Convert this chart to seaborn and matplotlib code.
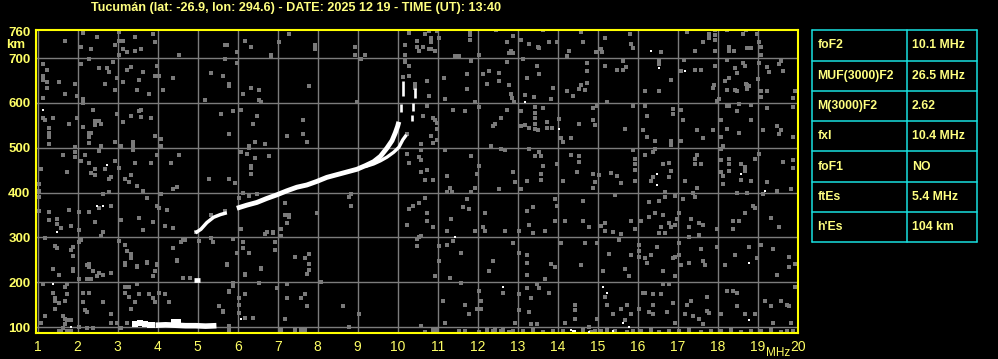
import matplotlib
matplotlib.use("Agg")
import matplotlib.pyplot as plt
import matplotlib.font_manager as fm
import seaborn as sns
import pandas as pd

# ---------------- data ----------------
title = "Tucumán (lat: -26.9, lon: 294.6) - DATE: 2025 12 19 - TIME (UT): 13:40"
freq_ticks = list(range(1, 21))
height_ticks = [100, 200, 300, 400, 500, 600, 700, 760]
grid_freqs = list(range(1, 20))
grid_heights = [100, 200, 300, 400, 500, 600, 700]

param_names = ["foF2", "MUF(3000)F2", "M(3000)F2", "fxI", "foF1", "ftEs", "h'Es"]
param_values = ["10.1 MHz", "26.5 MHz", "2.62", "10.4 MHz", "NO", "5.4 MHz", "104 km"]

# F-layer ordinary trace (two pieces)
o_low_f = [4.94, 5.08, 5.23, 5.40, 5.57, 5.73]
o_low_h = [310, 318, 333, 345, 351, 355]
o_main_f = [5.98, 6.23, 6.48, 6.73, 6.98, 7.23, 7.48, 7.73, 7.98, 8.23, 8.48, 8.73, 8.98,
            9.19, 9.40, 9.57, 9.73, 9.86, 9.94, 10.00, 10.03]
o_main_h = [365, 372, 378, 387, 395, 404, 412, 417, 425, 434, 440, 446, 452,
            460, 469, 481, 499, 516, 533, 548, 558]
o_cusp_f = [10.08, 10.13]
o_cusp_lo = [580, 615]
o_cusp_hi = [598, 648]
# extraordinary trace
x_main_f = [9.19, 9.40, 9.57, 9.73, 9.90, 10.03, 10.13, 10.22]
x_main_h = [458, 464, 471, 479, 490, 501, 518, 529]
x_cusp_f = [10.35, 10.38, 10.44]
x_cusp_lo = [559, 582, 611]
x_cusp_hi = [574, 600, 634]
# sporadic E
es_f = [3.95, 4.20, 4.45, 4.70, 4.95, 5.20, 5.47]
es_h = [104, 105, 104, 103, 103, 102, 103]
es_dash = [(3.43, 107), (3.57, 109), (3.68, 106), (3.80, 104), (3.87, 104), (4.40, 111), (4.50, 111)]
es2_f = [4.92, 5.07]
es2_h = [206, 206]

noise_gray = [
    (2.13,757),(1.68,739),(2.48,748),(2.33,721),(2.08,726),(3.03,758),(2.93,730),(3.03,738),(3.13,739),(3.03,708),
    (3.13,721),(3.23,713),(3.43,748),(3.43,717),(3.58,721),(3.88,753),(3.93,735),(4.53,708),(1.13,687),(1.23,674),
    (1.13,661),(1.13,652),(1.23,647),(1.53,647),(1.23,634),(1.68,621),(1.13,612),(1.93,643),(1.98,616),(2.13,610),
    (2.13,601),(2.08,687),(2.28,698),(2.53,679),(2.73,679),(2.78,670),(2.68,643),(2.93,630),(2.88,692),(2.98,656),
    (3.13,647),(3.23,674),(3.33,680),(3.48,630),(3.53,652),(3.63,670),(3.78,621),(3.93,661),(4.03,661),(4.13,630),
    (4.38,656),(3.98,683),(1.13,567),(1.18,561),(1.38,566),(1.28,545),(1.28,532),(1.28,523),(1.28,508),(1.78,554),
    (1.98,567),(2.13,547),(2.28,532),(2.28,523),(2.33,532),(2.38,585),(2.43,560),(2.43,550),(2.53,559),(2.58,553),
    (2.28,510),(2.58,505),(2.98,576),(3.13,557),(3.33,572),(3.53,581),(3.58,585),(3.58,569),(3.83,566),(3.93,526),
    (4.08,519),(4.08,505),(3.38,514),(3.38,505),(3.38,496),(3.08,505),(2.93,513),(1.93,501),(1.93,490),(1.93,479),
    (1.63,483),(1.08,452),(1.73,447),(2.08,470),(2.18,483),(2.28,465),(2.33,444),(2.43,452),(2.53,492),(2.43,439),
    (2.68,452),(2.83,434),(2.78,430),(2.93,471),(3.03,456),(3.18,430),(3.28,424),(3.33,439),(3.43,465),(3.48,415),
    (3.63,404),(3.83,465),(3.98,484),(4.33,465),(4.53,483),(4.38,409),(4.48,413),(1.03,419),(1.03,404),(1.03,390),
    (1.28,357),(1.28,339),(1.48,342),(1.48,330),(1.58,321),(1.78,361),(1.83,326),(2.03,357),(2.03,317),(2.28,357),
    (2.43,335),(2.53,366),(2.63,313),(2.58,304),(2.83,370),(2.78,401),(2.63,397),(3.03,293),(3.08,339),(3.18,284),
    (3.23,270),(3.33,264),(3.33,255),(3.53,344),(3.63,317),(3.73,388),(3.88,335),(3.98,370),(4.08,397),(4.03,366),
    (4.23,361),(4.18,326),(4.38,321),(4.38,277),(4.48,250),(4.58,290),(4.63,295),(1.03,360),(1.18,298),(1.43,281),
    (1.48,277),(1.88,279),(1.83,273),(1.88,259),(2.03,290),(2.08,295),(2.28,241),(3.18,243),(3.48,237),(3.73,246),
    (3.98,241),
    (1.38,230),(1.53,217),(1.88,230),(1.88,226),(1.13,195),(1.68,190),(1.73,195),(1.38,177),(1.73,173),(1.68,159),
    (1.53,153),(1.43,164),(1.43,159),(1.43,141),(1.18,124),(1.63,124),(1.68,119),(1.73,115),(1.83,115),(1.68,106),
    (1.58,92),(1.53,92),(1.63,97),(1.73,92),(1.83,92),(1.08,110),(2.23,239),(2.28,235),(2.38,226),(2.53,221),
    (2.63,217),(2.83,221),(2.33,208),(2.23,208),(2.48,213),(2.03,208),(2.13,177),(2.28,177),(2.13,155),(2.18,137),
    (2.23,133),(2.03,101),(2.23,97),(2.38,97),(2.63,155),(2.83,128),(2.83,110),(2.98,110),(3.08,97),(3.18,239),
    (3.48,235),(3.73,244),(3.98,239),(3.93,226),(3.88,213),(3.18,190),(3.28,190),(3.48,195),(3.18,177),(3.28,168),
    (3.53,173),(3.43,155),(3.33,141),(3.23,110),(3.78,173),(3.88,164),(3.93,155),(4.03,177),(4.18,173),(4.28,155),
    (4.48,248),(5.53,146),(5.63,136),(5.73,239),(5.78,178),(5.88,198),(6.03,164),(6.18,217),(6.53,198),(6.58,230),
    (6.98,186),(5.78,97),
    (4.97,313),(4.63,295),(4.68,295),(5.03,292),(5.33,299),(5.38,290),(5.88,296),(6.13,290),(6.13,277),(6.28,266),
    (5.98,266),(5.73,241),(6.18,218),(6.58,232),(6.73,311),(6.88,313),(7.08,304),(6.93,290),(6.93,272),(7.43,257),
    (7.68,254),(7.78,263),(7.78,241),(7.78,227),(7.73,218),(6.53,199),(6.98,187),(7.23,196),(8.08,200),(4.63,209),
    (4.82,209),(5.88,191),(5.78,181),(6.18,173),(6.03,164),(6.03,149),(5.53,146),(5.63,134),(6.03,131),(6.18,121),
    (6.38,121),(7.18,118),(7.68,173),(7.73,148),(7.23,164),(7.58,164),(8.63,146),(9.03,130),(8.78,101),(10.48,296),
    (10.48,281),(10.58,304),(11.03,281),(11.03,247),(10.93,214),(10.58,103),(10.68,90),(10.88,94),(10.98,94),
    (5.78,103),(5.78,94),(7.08,94),(7.43,94),(7.58,94),(7.68,94),
    (5.68,730),(5.73,730),(5.68,699),(5.98,713),(5.98,689),(6.18,739),(6.33,726),(6.83,708),(6.83,704),(7.03,735),
    (7.28,753),(7.93,730),(7.93,721),(8.93,726),(8.93,708),(9.08,699),(9.18,708),(10.28,757),(10.18,730),(10.18,708),
    (10.18,693),(10.28,683),(10.48,739),(10.48,726),(10.53,717),(10.63,726),(10.68,753),(10.78,761),(10.83,744),
    (10.83,735),(10.78,721),(10.83,721),(10.93,717),(10.98,761),(11.03,744),
    (5.33,666),(5.63,661),(5.78,643),(5.78,639),(5.18,606),(6.13,621),(6.33,634),(6.53,630),(6.53,607),(6.58,603),
    (5.58,576),(5.88,581),(6.08,585),(6.38,554),(6.48,572),(5.78,531),(6.28,504),(6.28,500),(6.43,513),(6.68,509),
    (6.08,491),(6.23,487),(6.43,478),(6.78,482),(6.33,460),(6.33,455),(6.33,442),(5.28,430),(5.78,430),(5.93,422),
    (6.13,399),(6.03,387),(6.28,393),(6.48,397),(7.18,376),(7.18,351),(7.28,349),(7.28,345),(7.23,333),(7.08,319),
    (6.68,307),(6.88,310),(6.08,319),(5.33,349),(5.68,358),(7.23,527),(7.63,563),(7.63,531),(7.73,513),(7.78,639),
    (8.98,603),(7.98,355),(8.78,391),(8.83,396),(8.83,369),(10.18,691),(10.28,682),(10.28,660),(10.13,657),
    (10.43,643),(10.43,634),(10.73,648),(10.78,616),(10.73,594),(10.63,572),(10.88,567),(10.93,563),(10.98,555),
    (10.98,543),(10.98,518),(10.88,510),(10.83,527),(10.58,509),(10.58,496),(10.53,479),(10.58,473),(10.23,530),
    (10.23,487),(10.28,467),(10.73,451),(10.68,428),(10.58,446),(10.88,428),(10.68,387),(10.73,355),(10.73,337),
    (10.53,376),(10.38,370),(10.28,364),(10.23,328),(10.53,301),(10.88,324),
    (11.80,761),(11.80,752),(11.80,740),(12.45,762),(12.89,749),(13.09,740),(12.74,735),(12.84,717),(12.78,712),
    (12.89,712),(13.29,731),(13.50,725),(13.54,722),(13.79,737),(13.99,735),(13.64,762),(14.59,758),(14.64,735),
    (14.29,717),(14.24,704),(14.95,713),(15.09,720),(15.10,713),(15.19,744),(15.82,755),(15.84,731),(15.89,722),
    (16.59,713),(17.24,758),(17.79,753),(17.79,744),(17.94,762),(17.94,752),(17.94,740),(17.64,735),(17.44,717),
    (17.94,717),(18.24,762),(18.29,726),(18.29,717),(18.40,717),(18.70,762),(18.64,753),(18.74,722),(18.84,722),
    (19.04,735),(19.09,726),(19.09,708),(18.99,755),(11.44,704),(11.54,704),(12.04,708),(11.15,656),(11.84,693),
    (11.74,665),(11.74,632),(12.14,665),(12.29,671),(12.54,668),(12.54,648),(12.24,642),(12.79,641),(12.74,692),
    (12.84,620),(12.85,611),(12.90,602),(11.94,603),(11.19,608),(13.14,699),(13.24,656),(13.49,683),(13.54,665),
    (13.19,618),(13.40,614),(13.89,633),(13.84,608),(14.24,627),(14.39,615),(14.54,632),(14.59,641),(14.74,690),
    (14.74,671),(14.74,645),(14.69,629),(15.19,683),(15.49,674),(15.64,693),(15.64,674),(15.70,680),(16.54,696),
    (16.54,687),(16.84,651),(16.54,627),(16.19,626),(15.24,602),(17.15,696),(17.09,671),(17.44,674),(17.59,674),
    (17.94,683),(17.90,641),(17.89,633),(17.99,605),(18.04,608),(18.24,696),(18.19,648),(18.24,629),(18.29,656),
    (18.44,678),(18.49,668),(18.44,629),(18.49,626),(18.64,689),(18.69,683),(18.74,641),(18.74,632),(18.70,642),
    (18.79,639),(19.04,690),(19.02,653),(19.09,627),(19.09,614),(19.24,681),(19.29,669),(19.24,626),(19.54,686),
    (19.59,693),(19.64,671),(19.89,611),(19.94,626),
    (11.39,584),(11.69,581),(12.04,591),(12.74,584),(12.59,566),(12.39,548),(12.44,552),(13.09,582),(13.09,548),
    (13.19,551),(13.29,545),(13.44,591),(13.44,578),(13.44,566),(13.44,554),(13.44,543),(13.52,540),(13.64,588),
    (13.74,557),(13.74,545),(13.85,545),(14.04,564),(14.09,521),(14.14,512),(14.34,521),(14.54,552),(14.89,588),
    (14.89,561),(14.94,551),(14.99,594),(15.69,543),(15.89,593),(16.19,594),(16.24,572),(16.14,539),(16.24,525),
    (16.44,516),(16.84,516),(16.84,507),(16.89,587),(16.89,575),(17.09,584),(17.14,561),(17.49,539),(17.64,521),
    (17.09,516),(17.89,539),(18.09,561),(18.09,525),(18.24,543),(18.29,593),(18.49,582),(18.54,534),(18.84,561),
    (18.84,596),(19.14,539),(19.24,588),(19.49,548),(19.54,530),(19.59,539),(19.89,590),(19.89,525),(18.24,593),
    (18.54,597),
    (11.19,494),(11.84,482),(12.04,460),(11.99,442),(11.24,436),(12.34,503),(12.59,497),(12.69,494),(12.89,445),
    (13.29,498),(13.44,481),(13.54,490),(13.59,481),(13.64,460),(13.59,442),(13.99,463),(14.34,485),(14.49,445),
    (14.54,469),(14.54,482),(14.89,442),(15.04,439),(15.34,443),(15.49,436),(15.89,494),(15.94,476),(15.94,463),
    (15.94,451),(16.19,484),(16.39,490),(16.44,498),(16.64,463),(16.79,467),(16.84,449),(16.79,434),(16.39,434),
    (17.44,475),(17.44,463),(17.59,464),(17.49,485),(18.09,498),(18.14,504),(18.09,472),(18.09,446),(18.14,437),
    (18.29,476),(18.29,464),(18.29,449),(18.59,463),(18.69,458),(18.69,449),(18.94,476),(19.04,487),(19.64,469),
    (19.89,472),(19.89,454),
    (11.32,411),(11.35,402),(11.24,402),(11.94,411),(11.84,402),(12.54,408),(12.94,424),(13.09,408),(13.24,426),
    (13.59,429),(14.14,426),(14.89,411),(14.94,424),(15.59,421),(15.94,426),(16.34,426),(16.69,402),(16.69,390),
    (16.94,393),(17.19,426),(17.49,411),(18.14,420),(18.59,429),(18.84,426),(19.24,423),(19.14,396),(19.84,408),
    (19.49,404),(18.74,398),(18.49,398),(17.39,398),(17.44,390),(17.14,386),(16.54,381),(16.29,380),(15.44,395),
    (14.64,381),(13.99,371),(13.94,386),(13.39,368),(13.24,359),(12.19,355),(11.74,386),(11.64,368),(11.79,364),
    (11.34,341),(11.24,315),(11.94,315),(12.14,324),(12.19,315),(12.69,315),(13.04,315),(13.29,328),(13.39,310),
    (13.69,315),(13.94,337),(14.19,337),(14.64,337),(14.79,324),(15.09,325),(15.19,333),(15.19,315),(15.39,312),
    (15.59,307),(15.84,337),(15.94,319),(16.09,336),(16.29,346),(16.44,355),(16.64,350),(16.79,333),(16.94,328),
    (16.99,341),(17.04,355),(17.29,324),(17.34,341),(17.54,333),(17.64,328),(17.54,306),(17.29,301),(16.69,310),
    (16.54,310),(16.59,324),(16.84,324),(17.99,319),(18.39,337),(18.39,319),(18.54,337),(18.69,355),(18.89,370),
    (18.94,365),(19.34,343),(19.54,324),
    (11.39,291),(11.24,284),(11.59,266),(12.39,248),(12.29,226),(12.89,288),(13.04,266),(13.24,261),(13.24,244),
    (13.24,217),(13.84,241),(13.94,235),(13.69,208),(14.09,288),(14.59,239),(14.69,288),(14.99,287),(15.14,226),
    (15.29,263),(15.54,294),(15.69,230),(15.84,261),(15.79,213),(16.04,284),(16.04,270),(16.04,257),(16.19,253),
    (16.24,244),(16.34,261),(16.49,279),(16.64,226),(16.89,253),(16.94,257),(16.94,213),(17.04,288),(17.04,261),
    (17.09,239),(17.29,244),(17.59,275),(17.64,248),(17.69,239),(17.99,279),(18.19,239),(18.44,261),(18.79,279),
    (18.99,253),(19.09,284),(19.39,275),(19.49,217),(19.79,257),(19.79,235),(19.94,241),
    (11.30,210),(11.59,199),(12.04,181),(12.09,159),(11.99,140),(12.09,140),(11.14,159),(11.69,150),(11.79,128),
    (12.64,177),(13.04,173),(13.04,137),(13.24,186),(13.49,195),(13.54,186),(13.79,177),(13.34,164),(13.29,133),
    (12.94,110),(13.34,106),(13.49,107),(14.44,150),(14.44,137),(14.44,119),(14.19,110),(14.79,101),(14.99,119),
    (15.19,168),(15.24,150),(15.39,128),(15.59,141),(15.69,116),(15.74,150),(15.84,128),(16.04,141),(16.14,177),
    (16.19,177),(16.39,173),(16.39,150),(16.29,133),(16.39,130),(16.59,173),(16.64,195),(16.79,195),(16.89,153),
    (16.74,133),(16.94,110),(17.19,128),(17.24,150),(17.34,159),(17.39,124),(17.54,119),(17.64,106),(17.74,168),
    (17.74,136),(17.79,131),(18.09,128),(18.24,181),(18.39,181),(18.49,177),(18.49,146),(18.69,128),(18.94,130),
    (19.19,158),(19.34,146),(19.39,110),(19.59,159),(19.74,150),(19.79,146),(19.84,110),(19.94,190),(11.19,109),
    (11.54,91),(11.69,92),(12.04,90),(12.24,93),(12.39,91),(12.44,94),(12.59,91),(12.64,93),(12.79,90),(12.89,92),
    (13.14,91),(13.39,93),(13.64,90),(13.89,92),(14.14,91),(14.64,93),(14.84,90),(14.94,92),(15.09,91),(15.24,94),
    (15.44,91),(15.74,90),(15.89,92),(16.09,91),(16.34,93),(16.54,90),(16.79,92),(17.04,91),(17.29,94),(17.59,90),
    (17.84,92),(18.09,91),(18.34,93),(18.59,90),(18.84,92),(19.09,91),(19.34,93),(19.59,90),(19.74,92),(19.89,91),
]

noise_white = [
    (1.13,585),(1.48,313),(2.48,369),(2.63,369),(2.73,461),(1.38,195),(1.83,101),(6.08,118),(16.34,717),
    (16.54,678),(17.19,671),(13.19,602),(14.04,542),(16.49,442),(18.59,442),(16.49,417),(19.19,404),
    (11.44,301),(18.79,244),(12.64,190),(14.34,94),(14.79,90),(15.14,190),(15.24,177),(15.64,110),
    (15.79,101),(18.79,115),(15.39,91),(14.39,91),(14.44,91),
]

# ---------------- styling ----------------
sns.set_theme(style="dark")
plt.rcParams["font.family"] = ["Liberation Sans", "DejaVu Sans"]
available = {f.name for f in fm.fontManager.ttflist}
narrow = "Liberation Sans Narrow" if "Liberation Sans Narrow" in available else "Liberation Sans"

YEL = "#ffff66"
PALE = "#ffff80"
GRID = "#7c7c7c"

W, H = 998, 359
fig = plt.figure(figsize=(W / 100, H / 100), dpi=100, facecolor="black")
ax = fig.add_axes([36 / W, 1 - 333.3 / H, (797.7 - 36) / W, (333.3 - 29.5) / H])
ax.set_facecolor("black")

for f in grid_freqs:
    ax.axvline(f, color=GRID, lw=1.0, zorder=1)
for h in grid_heights:
    ax.axhline(h, color=GRID, lw=1.0, zorder=1)

gdf = pd.DataFrame(noise_gray, columns=["freq", "height"])
wdf = pd.DataFrame(noise_white, columns=["freq", "height"])
sns.scatterplot(data=gdf, x="freq", y="height", marker="s", s=5.0, color="#7a7a7a",
                linewidth=0, ax=ax, zorder=2)
sns.scatterplot(data=wdf, x="freq", y="height", marker="s", s=4.6, color="white",
                linewidth=0, ax=ax, zorder=3)

def trace(fs, hs, lw):
    sns.lineplot(x=fs, y=hs, sort=False, estimator=None, color="white", linewidth=lw,
                 ax=ax, zorder=4, solid_capstyle="butt")

trace(o_low_f, o_low_h, 2.5)
trace(o_main_f, o_main_h, 3.5)
trace(x_main_f, x_main_h, 2.4)
trace(es_f, es_h, 4.0)
trace(es2_f, es2_h, 3.4)
ax.vlines(o_cusp_f, o_cusp_lo, o_cusp_hi, color="white", lw=1.9, zorder=4)
ax.vlines(x_cusp_f, x_cusp_lo, x_cusp_hi, color="white", lw=1.9, zorder=4)
edf = pd.DataFrame(es_dash, columns=["freq", "height"])
sns.scatterplot(data=edf, x="freq", y="height", marker="s", s=14, color="white",
                linewidth=0, ax=ax, zorder=4)

ax.set_xlim(0.96, 20.0)
ax.set_ylim(86, 764)
ax.set_xticks(freq_ticks)
ax.set_xticklabels([str(v) for v in freq_ticks])
ax.set_yticks(height_ticks)
ax.set_yticklabels([str(v) for v in height_ticks])
ax.grid(False)
ax.set_xlabel("")
ax.set_ylabel("")
ax.tick_params(axis="both", length=0)
ax.tick_params(axis="y", pad=4, colors=YEL, labelsize=9.5)
ax.tick_params(axis="x", pad=5, colors=YEL, labelsize=10)
for lab in ax.get_yticklabels():
    lab.set_fontweight("bold")
for lab in ax.get_xticklabels():
    lab.set_family(narrow)
for sp in ax.spines.values():
    sp.set_visible(True)
    sp.set_color("#ffff00")
    sp.set_linewidth(1.5)

fig.text(91 / W, 1 - 7.5 / H, title, color=PALE, fontsize=9.1, fontweight="bold",
         ha="left", va="center")
fig.text(6 / W, 1 - 45.5 / H, "km", color=YEL, fontsize=9.5, fontweight="bold",
         ha="left", va="center")
fig.text(778 / W, 1 - 353.5 / H, "MHz", color=YEL, fontsize=8.5, family=narrow,
         ha="center", va="center")

# ---------------- parameter table ----------------
tab = fig.add_axes([812.3 / W, 1 - 242.3 / H, 165 / W, 212 / H])
tab.set_facecolor("black")
tab.set_xlim(0, 1)
tab.set_ylim(len(param_names), 0)
tab.axis("off")
CY = "#18e0e0"
for i in range(len(param_names) + 1):
    tab.axhline(i, color=CY, lw=1.1, xmin=0, xmax=1, clip_on=False)
for xv in [0, 0.5758, 1]:
    tab.axvline(xv, color=CY, lw=1.1, clip_on=False)
for i, (n, v) in enumerate(zip(param_names, param_values)):
    tab.text(0.03, i + 0.5, n, color=PALE, fontsize=8.8, fontweight="bold", ha="left", va="center")
    tab.text(0.604, i + 0.5, v, color=PALE, fontsize=8.8, fontweight="bold", ha="left", va="center")

fig.savefig("out.png", dpi=100, facecolor="black")
